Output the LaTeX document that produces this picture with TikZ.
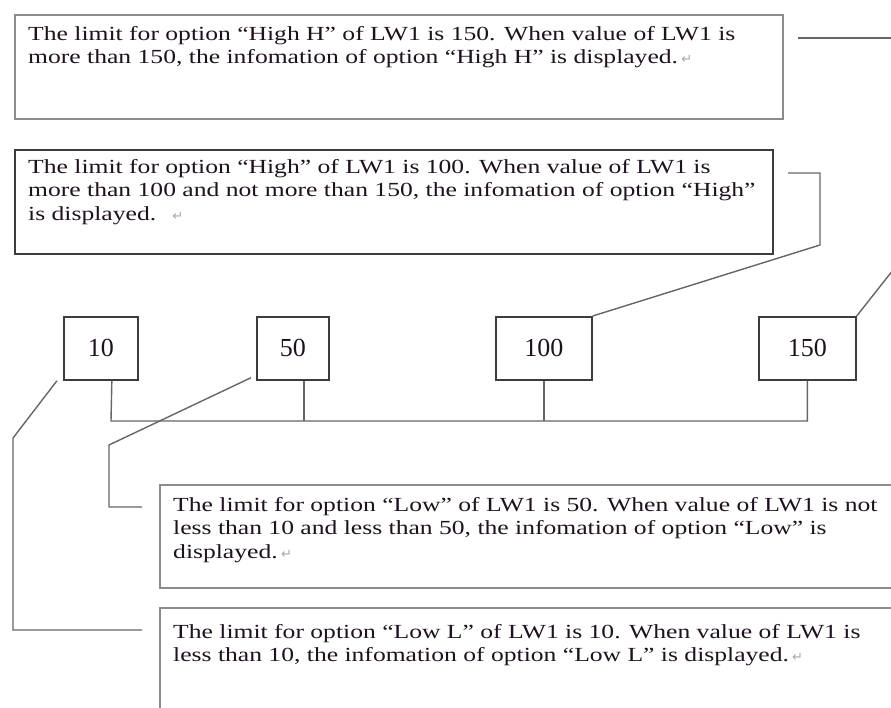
\documentclass[tikz,border=0pt]{standalone}
\usepackage{fontspec}
\setmainfont{Liberation Serif}
\newfontfamily\bodyfont{Liberation Serif}[FakeStretch=1.28]
\newfontfamily\numfont{Liberation Serif}
\newfontfamily\symfont{DejaVu Sans}
\definecolor{txt}{HTML}{1E121E}
\definecolor{boxgray}{HTML}{8C8C8C}
\definecolor{boxdark}{HTML}{3C3C3C}
\definecolor{connc}{HTML}{666666}
\newcommand\retmark{\,{\symfont\fontsize{13}{13}\selectfont\color{gray!70}↵}}
\tikzset{
  tbox/.style={draw=#1, line width=1.6pt, fill=white, rectangle, inner sep=0pt, anchor=north west},
  nbox/.style={draw=boxdark, line width=1.7pt, fill=white, rectangle, inner sep=0pt, anchor=north west,
    font=\numfont\fontsize{26}{26}\selectfont, text=txt},
  para/.style={anchor=north west, inner sep=0pt, align=left,
    font=\bodyfont\fontsize{20}{23.5}\selectfont, text=txt},
  conn/.style={draw=connc, line width=1.4pt, line join=miter},
}
\begin{document}
\begin{tikzpicture}[x=1pt,y=-1pt]
\useasboundingbox (0,0) rectangle (891,707);
\fill[white] (0,0) rectangle (891,707);
\clip (0,0) rectangle (891,707);

% text boxes
\node[tbox=boxgray, minimum width=768pt, minimum height=104pt] (hh) at (14,14) {};
\node[tbox=boxdark, minimum width=758pt, minimum height=104pt] (hi) at (14,149) {};
\node[tbox=boxgray, minimum width=760pt, minimum height=103pt] (lo) at (159,484) {};
\node[tbox=boxgray, minimum width=760pt, minimum height=120pt] (ll) at (159,607) {};

\node[para] (hhtext) at (28,23.5) {\strut The limit for option “High H” of LW1 is 150. When value of LW1 is\\more than 150, the infomation of option “High H” is displayed.\retmark};
\node[para] (hitext) at (28,156.5) {\strut The limit for option “High” of LW1 is 100. When value of LW1 is\\more than 100 and not more than 150, the infomation of option “High”\\is displayed.\ \ \retmark};
\node[para] (lotext) at (173,494.5) {\strut The limit for option “Low” of LW1 is 50. When value of LW1 is not\\less than 10 and less than 50, the infomation of option “Low” is\\displayed.\retmark};
\node[para] (lltext) at (173,621.5) {\strut The limit for option “Low L” of LW1 is 10. When value of LW1 is\\less than 10, the infomation of option “Low L” is displayed.\retmark};

% value boxes
\node[nbox, minimum width=74pt, minimum height=63pt] (b10) at (63,316) {10};
\node[nbox, minimum width=72pt, minimum height=63pt] (b50) at (256,316) {50};
\node[nbox, minimum width=96pt, minimum height=63pt] (b100) at (495,316) {100};
\node[nbox, minimum width=97pt, minimum height=63pt] (b150) at (758,316) {150};

% bus
\coordinate (busL) at (111,421);
\draw[conn] ([xshift=11pt]b10.south) -- (busL) -- (b150.south |- busL) -- (b150.south);
\draw[conn] ([xshift=11pt]b50.south) -- ([xshift=11pt]b50.south |- busL);
\draw[conn] (b100.south) -- (b100.south |- busL);

% leader lines
\coordinate (hhS) at (798,38);
\coordinate (hhE) at (900,38);
\draw[conn] (hhS) -- (hhE);
\coordinate (c150) at (893,270);
\draw[conn] (b150.north east) -- (c150);

\coordinate (hiA) at (788,173);
\coordinate (hiB) at (820,173);
\coordinate (hiC) at (820,245);
\draw[conn] (hiA) -- (hiB) -- (hiC) -- (b100.north east);

\coordinate (l10a) at (13,438);
\coordinate (l10b) at (13,630);
\coordinate (l10c) at (142,630);
\draw[conn] ([xshift=-6pt]b10.south west) -- (l10a) -- (l10b) -- (l10c);

\coordinate (l50a) at (109,445);
\coordinate (l50b) at (109,507);
\coordinate (l50c) at (142,507);
\draw[conn] ([xshift=-5pt,yshift=3pt]b50.south west) -- (l50a) -- (l50b) -- (l50c);
\end{tikzpicture}
\end{document}
